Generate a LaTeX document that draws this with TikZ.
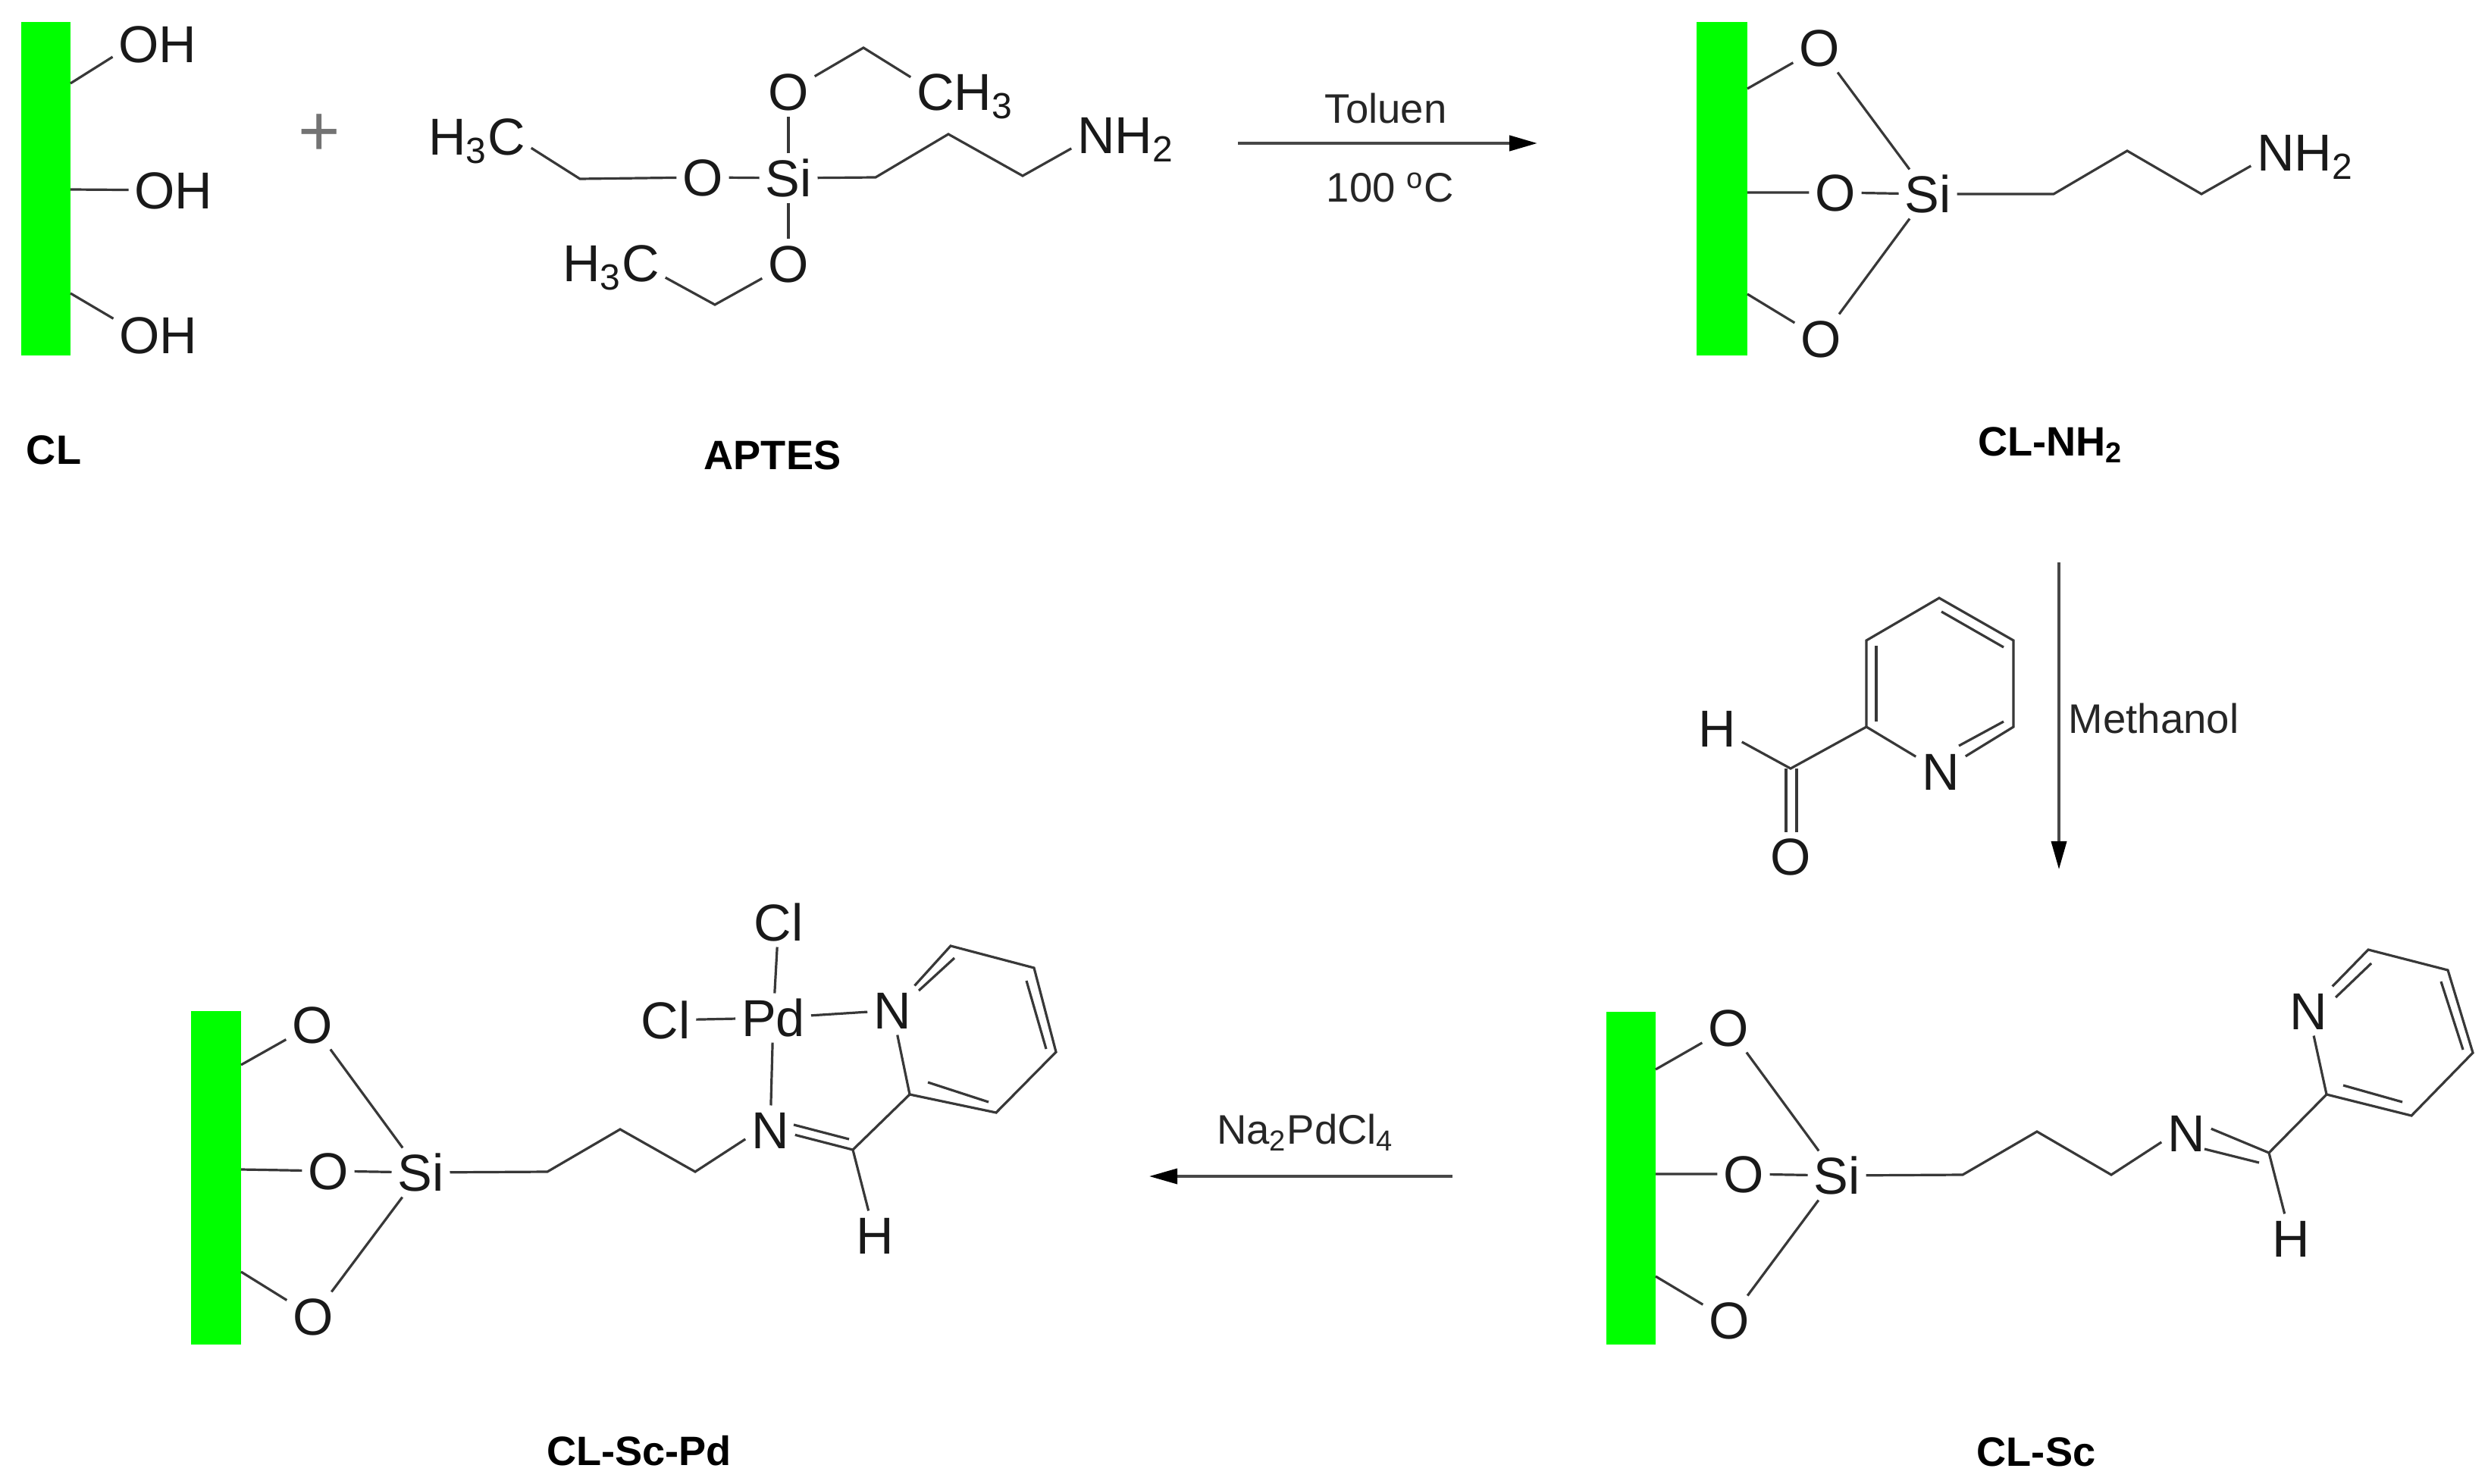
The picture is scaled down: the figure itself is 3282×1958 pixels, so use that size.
\documentclass[tikz,border=0pt]{standalone}
\usepackage{fontspec}
\setmainfont{Liberation Sans}
\usetikzlibrary{arrows.meta}
\tikzset{
  atomlabel/.style={inner sep=0pt,outer sep=0.08cm,text height=0.49cm,text depth=0pt,text=black!90,font=\fontsize{19.5}{22}\selectfont},
  reagent/.style={inner sep=0pt,text height=0.39cm,text depth=0pt,text=black!85,font=\fontsize{15.5}{18}\selectfont},
  compound/.style={inner sep=0pt,text height=0.40cm,text depth=0pt,text=black,font=\fontsize{15.4}{19}\selectfont\bfseries},
  bond/.style={draw=black!78,line width=0.032cm},
  reaction/.style={draw=black!72,line width=0.035cm,-{Triangle[length=0.37cm,width=0.2cm,color=black]}},
  surface/.style={fill=green}
}
\begin{document}
\begin{tikzpicture}[x=0.01cm,y=-0.01cm]
\useasboundingbox (0,0) rectangle (3282,1958);

% CL
\fill[surface] (28,29) rectangle (93,469);
\coordinate (a1) at (93,110);
\coordinate (a2) at (93,250);
\coordinate (a3) at (93,387);
\node[atomlabel] (aOH1) at (208,58) {OH};
\node[atomlabel] (aOH2) at (229,251) {OH};
\node[atomlabel] (aOH3) at (209,442) {OH};
\draw[bond] (a1) -- (aOH1.196);
\draw[bond] (a2) -- (aOH2);
\draw[bond] (a3) -- (aOH3.160);
\node[compound] (clname) at (71,592) {CL};
\node[inner sep=0pt,text=black!55,font=\fontsize{27}{30}\selectfont] (plus) at (421,178) {+};

% APTES
\node[atomlabel] (bSi) at (1040,235) {Si};
\node[atomlabel] (bO1) at (1040,121) {O};
\node[atomlabel] (bO2) at (927,234) {O};
\node[atomlabel] (bO3) at (1040,348) {O};
\node[atomlabel] (bCH3) at (1273,121) {CH\textsubscript{3}};
\node[atomlabel] (bHC1) at (629,180) {H\textsubscript{3}C};
\node[atomlabel] (bHC2) at (806,347) {H\textsubscript{3}C};
\node[atomlabel] (bNH2) at (1485,178) {NH\textsubscript{2}};
\coordinate (b1) at (1139,63);
\coordinate (b2) at (765,236);
\coordinate (b3) at (943,402);
\coordinate (b4) at (1155,234);
\coordinate (b5) at (1251,177);
\coordinate (b6) at (1349,232);
\draw[bond] (bSi) -- (bO1);
\draw[bond] (bSi) -- (bO2);
\draw[bond] (bSi) -- (bO3);
\draw[bond] (bO1) -- (b1) -- (bCH3.165);
\draw[bond] (bO2) -- (b2) -- (bHC1.-12);
\draw[bond] (bO3) -- (b3) -- (bHC2.-15);
\draw[bond] (bSi) -- (b4) -- (b5) -- (b6) -- (bNH2.194);
\node[compound] (aptesname) at (1019,599) {APTES};

% first step
\coordinate (r1s) at (1633,189);
\coordinate (r1e) at (2028,189);
\draw[reaction,line width=0.045cm] (r1s) -- (r1e);
\node[reagent] (toluen) at (1828,143) {Toluen};
\node[reagent] (temp) at (1834,247) {100 \textsuperscript{o}C};

% CL-NH2
\fill[surface] (2238,29) rectangle (2305,469);
\coordinate (c1) at (2305,117);
\coordinate (c2) at (2305,254);
\coordinate (c3) at (2305,388);
\node[atomlabel] (cO1) at (2400,63) {O};
\node[atomlabel] (cO2) at (2421,254) {O};
\node[atomlabel] (cO3) at (2402,447) {O};
\node[atomlabel] (cSi) at (2543,256) {Si};
\node[atomlabel] (cNH2) at (3041,201) {NH\textsubscript{2}};
\coordinate (c4) at (2709,256);
\coordinate (c5) at (2806,199);
\coordinate (c6) at (2904,256);
\draw[bond] (c1) -- (cO1) -- (cSi);
\draw[bond] (c2) -- (cO2) -- (cSi);
\draw[bond] (c3) -- (cO3) -- (cSi);
\draw[bond] (cSi) -- (c4) -- (c5) -- (c6) -- (cNH2.194);
\node[compound] (clnhname) at (2705,581) {CL-NH\textsubscript{2}};

% second step
\coordinate (r2s) at (2716,742);
\coordinate (r2e) at (2716,1147);
\draw[reaction] (r2s) -- (r2e);
\node[reagent] (methanol) at (2841,948) {Methanol};
\node[atomlabel] (dH) at (2265,961) {H};
\node[atomlabel] (dN) at (2560,1018) {N};
\node[atomlabel] (dO) at (2362,1130) {O};
\coordinate (d1) at (2558,789);
\coordinate (d2) at (2656,845);
\coordinate (d3) at (2656,959);
\coordinate (d4) at (2462,959);
\coordinate (d5) at (2462,845);
\coordinate (d6) at (2362,1014);
\coordinate (d7) at (2561,807);
\coordinate (d8) at (2643,854);
\coordinate (d9) at (2475,852);
\coordinate (d10) at (2475,952);
\coordinate (d11) at (2643,952);
\coordinate (d12) at (2584,984);
\coordinate (d13) at (2356,1014);
\coordinate (d14) at (2356,1098);
\coordinate (d15) at (2370,1014);
\coordinate (d16) at (2370,1098);
\draw[bond] (dN) -- (d3) -- (d2) -- (d1) -- (d5) -- (d4) -- (dN);
\draw[bond] (d7) -- (d8);
\draw[bond] (d9) -- (d10);
\draw[bond] (d11) -- (d12);
\draw[bond] (d4) -- (d6) -- (dH);
\draw[bond] (d13) -- (d14);
\draw[bond] (d15) -- (d16);

% CL-Sc
\fill[surface] (2119,1335) rectangle (2184,1774);
\coordinate (e1) at (2184,1411);
\coordinate (e2) at (2184,1549);
\coordinate (e3) at (2184,1684);
\node[atomlabel] (eO1) at (2280,1356) {O};
\node[atomlabel] (eO2) at (2300,1549) {O};
\node[atomlabel] (eO3) at (2281,1742) {O};
\node[atomlabel] (eSi) at (2423,1551) {Si};
\node[atomlabel] (eN1) at (2884,1495) {N};
\node[atomlabel] (eN2) at (3045,1334) {N};
\node[atomlabel] (eH) at (3022,1634) {H};
\coordinate (e4) at (2589,1550);
\coordinate (e5) at (2687,1493);
\coordinate (e6) at (2785,1550);
\coordinate (e7) at (2993,1521);
\coordinate (e8) at (3069,1444);
\coordinate (e9) at (3124,1253);
\coordinate (e10) at (3229,1280);
\coordinate (e11) at (3262,1389);
\coordinate (e12) at (3181,1472);
\coordinate (e13) at (2908,1516);
\coordinate (e14) at (2980,1534);
\coordinate (e15) at (3081,1316);
\coordinate (e16) at (3128,1271);
\coordinate (e17) at (3220,1295);
\coordinate (e18) at (3249,1385);
\coordinate (e19) at (3091,1432);
\coordinate (e20) at (3169,1454);
\draw[bond] (e1) -- (eO1) -- (eSi);
\draw[bond] (e2) -- (eO2) -- (eSi);
\draw[bond] (e3) -- (eO3) -- (eSi);
\draw[bond] (eSi) -- (e4) -- (e5) -- (e6) -- (eN1.200);
\draw[bond] (eN1.10) -- (e7) -- (eH);
\draw[bond] (e13) -- (e14);
\draw[bond] (e7) -- (e8) -- (eN2) -- (e9) -- (e10) -- (e11) -- (e12) -- (e8);
\draw[bond] (e15) -- (e16);
\draw[bond] (e17) -- (e18);
\draw[bond] (e19) -- (e20);
\node[compound] (clscname) at (2686,1914) {CL-Sc};

% third step
\coordinate (r3s) at (1916,1552);
\coordinate (r3e) at (1516,1552);
\draw[reaction] (r3s) -- (r3e);
\node[reagent] (napd) at (1722,1490) {Na\textsubscript{2}PdCl\textsubscript{4}};

% CL-Sc-Pd
\fill[surface] (252,1334) rectangle (318,1774);
\coordinate (f1) at (318,1405);
\coordinate (f2) at (318,1543);
\coordinate (f3) at (318,1678);
\node[atomlabel] (fO1) at (412,1352) {O};
\node[atomlabel] (fO2) at (433,1545) {O};
\node[atomlabel] (fO3) at (413,1737) {O};
\node[atomlabel] (fSi) at (555,1547) {Si};
\node[atomlabel] (fN1) at (1016,1491) {N};
\node[atomlabel] (fN2) at (1177,1333) {N};
\node[atomlabel] (fH) at (1154,1630) {H};
\node[atomlabel] (fPd) at (1020,1343) {Pd};
\node[atomlabel] (fCl1) at (1027,1217) {Cl};
\node[atomlabel] (fCl2) at (878,1346) {Cl};
\coordinate (f4) at (722,1546);
\coordinate (f5) at (818,1490);
\coordinate (f6) at (917,1546);
\coordinate (f7) at (1125,1517);
\coordinate (f8) at (1200,1444);
\coordinate (f9) at (1254,1248);
\coordinate (f10) at (1364,1277);
\coordinate (f11) at (1393,1388);
\coordinate (f12) at (1314,1468);
\coordinate (f13) at (1047,1484);
\coordinate (f14) at (1120,1503);
\coordinate (f15) at (1212,1307);
\coordinate (f16) at (1259,1264);
\coordinate (f17) at (1354,1294);
\coordinate (f18) at (1380,1384);
\coordinate (f19) at (1224,1428);
\coordinate (f20) at (1304,1454);
\draw[bond] (f1) -- (fO1) -- (fSi);
\draw[bond] (f2) -- (fO2) -- (fSi);
\draw[bond] (f3) -- (fO3) -- (fSi);
\draw[bond] (fSi) -- (f4) -- (f5) -- (f6) -- (fN1.200);
\draw[bond] (fN1.-11) -- (f7) -- (fH);
\draw[bond] (f13) -- (f14);
\draw[bond] (f7) -- (f8) -- (fN2) -- (f9) -- (f10) -- (f11) -- (f12) -- (f8);
\draw[bond] (f15) -- (f16);
\draw[bond] (f17) -- (f18);
\draw[bond] (f19) -- (f20);
\draw[bond] (fPd) -- (fCl1);
\draw[bond] (fPd) -- (fCl2);
\draw[bond] (fPd) -- (fN2);
\draw[bond] (fPd) -- (fN1);
\node[compound] (clscpdname) at (843,1913) {CL-Sc-Pd};

\end{tikzpicture}
\end{document}
